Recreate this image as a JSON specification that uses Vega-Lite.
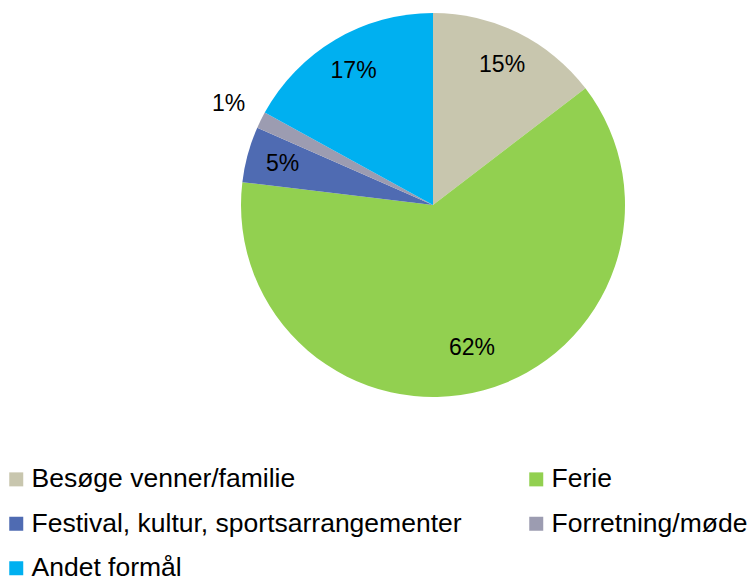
{
  "$schema": "https://vega.github.io/schema/vega-lite/v6.json",
  "width": 634,
  "height": 410,
  "autosize": {"type": "none"},
  "padding": {"left": 116, "top": 0, "right": 0, "bottom": 167},
  "background": "white",
  "config": {"view": {"stroke": null}, "font": "Liberation Sans"},
  "data": {
    "values": [
      {"purpose": "Besøge venner/familie", "pct": 14.6, "label": "15%", "order": 1},
      {"purpose": "Ferie", "pct": 62.3, "label": "62%", "order": 2},
      {"purpose": "Festival, kultur, sportsarrangementer", "pct": 4.7, "label": "5%", "order": 3},
      {"purpose": "Forretning/møde", "pct": 1.4, "label": "1%", "order": 4},
      {"purpose": "Andet formål", "pct": 17.0, "label": "17%", "order": 5}
    ]
  },
  "encoding": {
    "theta": {"field": "pct", "type": "quantitative", "stack": true},
    "order": {"field": "order", "type": "quantitative"},
    "color": {
      "field": "purpose",
      "type": "nominal",
      "scale": {
        "domain": ["Besøge venner/familie", "Ferie", "Festival, kultur, sportsarrangementer", "Forretning/møde", "Andet formål"],
        "range": ["#C8C6AE", "#92D050", "#4F6BB2", "#9C9CB1", "#00B0F0"]
      },
      "legend": {
        "title": null,
        "orient": "none",
        "direction": "horizontal",
        "legendX": -113,
        "legendY": 466,
        "columns": 2,
        "columnPadding": 61,
        "rowPadding": 17.5,
        "padding": 0,
        "symbolType": "square",
        "symbolSize": 196,
        "symbolStrokeWidth": 0,
        "labelFontSize": 26.5,
        "labelFont": "Liberation Sans",
        "labelColor": "#000000",
        "labelOffset": 2,
        "labelLimit": 0
      }
    }
  },
  "layer": [
    {"mark": {"type": "arc", "outerRadius": 192, "stroke": null}},
    {
      "mark": {
        "type": "text",
        "radius": {"expr": "datum.pct < 2 ? 228 : datum.pct > 50 ? 148 : 156"},
        "fontSize": 23,
        "font": "Liberation Sans",
        "fill": "#000000",
        "align": "center",
        "baseline": "middle"
      },
      "encoding": {
        "text": {"field": "label", "type": "nominal"},
        "color": {"value": "#000000"}
      }
    }
  ]
}
